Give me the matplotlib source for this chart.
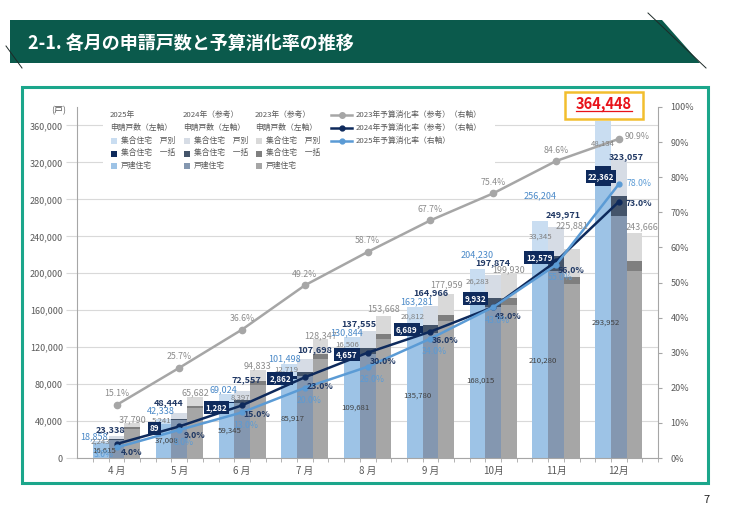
import matplotlib
matplotlib.use('Agg')
import matplotlib.pyplot as plt
import numpy as np
from matplotlib.patches import Rectangle, Polygon
from matplotlib.lines import Line2D

plt.rcParams['font.family'] = ['Noto Sans CJK JP', 'DejaVu Sans']

# ---------------- data ----------------
months = ['4 月', '5 月', '6 月', '7 月', '8 月', '9 月', '10月', '11月', '12月']

# 2025 applications (cumulative)
det_2025 = [16615, 37008, 59345, 85917, 109681, 135780, 168015, 210280, 293952]
bulk_2025 = [0, 89, 1282, 2862, 4657, 6689, 9932, 12579, 22362]
indiv_2025 = [2243, 5241, 8397, 12719, 16506, 20812, 26283, 33345, 48134]
total_2025 = [18858, 42338, 69024, 101498, 130844, 163281, 204230, 256204, 364448]

# 2024 (reference)
det_2024 = [19538, 40644, 59857, 88898, 113055, 135166, 163074, 201971, 261657]
bulk_2024 = [1000, 1800, 3000, 4700, 6500, 9000, 10000, 17000, 21600]
indiv_2024 = [2800, 6000, 9700, 14100, 18000, 20800, 24800, 31000, 39800]
total_2024 = [23338, 48444, 72557, 107698, 137555, 164966, 197874, 249971, 323057]

# 2023 (reference)
det_2023 = [31790, 53882, 79333, 107347, 128668, 148759, 165630, 187981, 201966]
bulk_2023 = [1500, 2800, 3500, 5100, 5400, 6200, 7500, 8500, 10800]
indiv_2023 = [4500, 9000, 12000, 15900, 19600, 23000, 26800, 29400, 30900]
total_2023 = [37790, 65682, 94833, 128347, 153668, 177959, 199930, 225881, 243666]

# budget consumption rates (%)
rate_2023 = [15.1, 25.7, 36.6, 49.2, 58.7, 67.7, 75.4, 84.6, 90.9]
rate_2024 = [4.0, 9.0, 15.0, 23.0, 30.0, 36.0, 43.0, 56.0, 73.0]
rate_2025 = [3.0, 8.0, 13.0, 20.0, 26.0, 34.0, 43.0, 55.0, 78.0]

# ---------------- styles ----------------
C25 = {'indiv': '#C9DDF1', 'bulk': '#0E2A5C', 'det': '#9DC3E6'}
C24 = {'indiv': '#D6DCE5', 'bulk': '#44546A', 'det': '#8497B0'}
C23 = {'indiv': '#D9D9D9', 'bulk': '#7F7F7F', 'det': '#A6A6A6'}
L23, L24, L25 = '#A6A6A6', '#0E2A5C', '#5B9BD5'
TXT = '#595959'

# label placement offsets (pixels), per month
tot25_off = [(-7, 4), (-3, 8), (-3, 4), (-5, 5), (-5, 4), (2, 5), (0, 15), (0, 26), (0, 0)]
tot24_off = [(-6, 7), (-11, 11), (4, 11), (10, 9), (-9, 7), (0, 13), (0, 13), (7, 12), (8, 3)]
tot23_off = [(0, 3), (0, 5), (0, 5), (0, 4), (0, 7), (0, 9), (0, 4), (0, 24), (8, 6)]
bulk25_off = [(0, 0), (-9, -5), (-10, -5), (-9, -1), (-5, 0), (-8, 0), (-2, 0), (-1, 0), (-2, 0)]
indiv25_off = [(0, 0), (-2, 1), (14, 0), (-3, 0), (-5, 0), (-2, 0), (0, 0), (0, 0), (0, 0)]

W, H = 730, 516
fig = plt.figure(figsize=(W / 100, H / 100), dpi=100)


def fx(x):
    return x / W


def fy(y):
    return 1 - y / H


# ---------------- banner / frame ----------------
fig.patches.append(Polygon([(fx(10), fy(20)), (fx(662), fy(20)), (fx(700), fy(63)), (fx(10), fy(63))],
                           closed=True, transform=fig.transFigure, facecolor='#0B5A4C',
                           edgecolor='none', zorder=0))
fig.lines.append(Line2D([fx(648), fx(706)], [fy(13), fy(68)], transform=fig.transFigure,
                        color='#1E2A28', lw=0.7))
fig.lines.append(Line2D([fx(6), fx(22)], [fy(46), fy(68)], transform=fig.transFigure,
                        color='#1E2A28', lw=0.7))
fig.text(fx(28), fy(43), '2-1. 各月の申請戸数と予算消化率の推移', color='white',
         fontsize=13, fontweight='bold', ha='left', va='center')
fig.patches.append(Rectangle((fx(22), fy(483)), (708 - 22) / W, (483 - 87) / H,
                             transform=fig.transFigure, fill=False,
                             edgecolor='#1BA68B', lw=2.2, zorder=0))
fig.text(fx(707), fy(500), '7', fontsize=8, ha='center', va='center', color='#222222')

# ---------------- axes ----------------
ax = fig.add_axes([fx(77), fy(458), (658 - 77) / W, (458 - 107) / H])
ax2 = ax.twinx()

x = np.arange(len(months))
bw = 0.25


def stack(xpos, det, bulk, indiv, cols):
    det = np.array(det)
    bulk = np.array(bulk)
    indiv = np.array(indiv)
    ax.bar(xpos, det, bw, color=cols['det'], lw=0, zorder=2)
    ax.bar(xpos, bulk, bw, bottom=det, color=cols['bulk'], lw=0, zorder=2)
    ax.bar(xpos, indiv, bw, bottom=det + bulk, color=cols['indiv'], lw=0, zorder=2)


stack(x - bw, det_2025, bulk_2025, indiv_2025, C25)
stack(x, det_2024, bulk_2024, indiv_2024, C24)
stack(x + bw, det_2023, bulk_2023, indiv_2023, C23)

ax.set_xlim(-0.63, 8.62)
ax.set_ylim(0, 380000)
ax.set_yticks(np.arange(0, 360001, 40000))
ax.set_yticklabels([f'{v:,}' for v in range(0, 360001, 40000)])
ax.tick_params(axis='y', length=8, color='#D9D9D9', labelsize=6.5, labelcolor=TXT, pad=2)
ax.yaxis.grid(True, color='#D9D9D9', lw=0.8, zorder=0)
ax.set_axisbelow(True)
ax.set_xticks(x)
ax.set_xticklabels(months)
ax.set_xticks(np.arange(-0.375, 8.63, 0.25), minor=True)
ax.tick_params(axis='x', which='major', length=0, labelsize=7, labelcolor=TXT, pad=6)
ax.tick_params(axis='x', which='minor', length=3, color='#A6A6A6')
for s in ['top', 'right']:
    ax.spines[s].set_visible(False)
for s in ['left', 'bottom']:
    ax.spines[s].set_color('#A6A6A6')
    ax.spines[s].set_linewidth(0.8)

ax2.set_ylim(0, 100)
ax2.set_yticks(np.arange(0, 101, 10))
ax2.set_yticklabels([f'{v}%' for v in range(0, 101, 10)])
ax2.tick_params(axis='y', length=3, color='#A6A6A6', labelsize=6.5, labelcolor=TXT, pad=6)
for s in ['top', 'left', 'bottom']:
    ax2.spines[s].set_visible(False)
ax2.spines['right'].set_color('#A6A6A6')
ax2.spines['right'].set_linewidth(0.8)

ax2.plot(x, rate_2023, color=L23, lw=1.8, marker='o', ms=4.5, zorder=3)
ax2.plot(x, rate_2024, color=L24, lw=1.8, marker='o', ms=3.5, zorder=3)
ax2.plot(x, rate_2025, color=L25, lw=1.8, marker='o', ms=3.5, zorder=3)

fig.text(fx(66), fy(111), '(戸)', ha='right', va='center', fontsize=6.5, color=TXT)


def lab(xv, yv, s, dx=0, dy=0, trans=None, **kw):
    ax2.annotate(s, xy=(xv, yv), xycoords=trans if trans is not None else ax.transData,
                 xytext=(dx, dy), textcoords='offset pixels', zorder=6,
                 annotation_clip=False, **kw)


# bar labels
for i in range(len(months)):
    xi25 = x[i] - bw
    if i < len(months) - 1:
        lab(xi25, total_2025[i], f'{total_2025[i]:,}', *tot25_off[i], ha='center',
            va='center', fontsize=6.5, color='#4A89C8')
    lab(x[i], total_2024[i], f'{total_2024[i]:,}', *tot24_off[i], ha='center', va='center',
        fontsize=6.5, color='#203864', fontweight='bold')
    lab(x[i] + bw, total_2023[i], f'{total_2023[i]:,}', *tot23_off[i], ha='center',
        va='center', fontsize=6.5, color='#8C8C8C')
    lab(xi25, det_2025[i] / 2, f'{det_2025[i]:,}', 3, 0, ha='center', va='center',
        fontsize=5.6, color='#404040')
    lab(xi25, det_2025[i] + bulk_2025[i] + indiv_2025[i] / 2, f'{indiv_2025[i]:,}',
        *indiv25_off[i], ha='center', va='center', fontsize=5.6, color='#7F7F7F')
    if bulk_2025[i] > 0:
        lab(xi25, det_2025[i] + bulk_2025[i] / 2, f'{bulk_2025[i]:,}', *bulk25_off[i],
            ha='center', va='center', fontsize=5.8, color='white', fontweight='bold',
            bbox=dict(boxstyle='square,pad=0.25', fc='#0E2A5C', ec='none'))

# rate labels
off23 = [(0, 11)] * 8 + [(18, 2)]
off24 = [(15, -9)] * 8 + [(20, -2)]
off25 = [(-13, -7)] + [(4, -13)] * 7 + [(20, 1)]
for i in range(len(months)):
    lab(x[i], rate_2023[i], f'{rate_2023[i]:.1f}%', *off23[i], trans=ax2.transData,
        ha='center', va='center', fontsize=6.3, color='#8C8C8C')
    lab(x[i], rate_2024[i], f'{rate_2024[i]:.1f}%', *off24[i], trans=ax2.transData,
        ha='center', va='center', fontsize=6.3, color='#1F3864', fontweight='bold')
    lab(x[i], rate_2025[i], f'{rate_2025[i]:.1f}%', *off25[i], trans=ax2.transData,
        ha='center', va='center', fontsize=6.3, color='#5B9BD5')

# highlighted 2025 December total
fig.patches.append(Rectangle((fx(565), fy(119)), 78 / W, 27 / H, transform=fig.transFigure,
                             facecolor='white', edgecolor='#F2BE2E', lw=1.8, zorder=5))
t = fig.text(fx(604), fy(104.5), f'{total_2025[-1]:,}', ha='center', va='center',
             fontsize=10.5, fontweight='bold', color='#E8131A', zorder=6)
fig.canvas.draw()
bb = t.get_window_extent().transformed(fig.transFigure.inverted())
fig.lines.append(Line2D([bb.x0, bb.x1], [bb.y0 + 0.002, bb.y0 + 0.002], transform=fig.transFigure,
                        color='#E8131A', lw=0.9, zorder=6))

# ---------------- legend ----------------
fig.patches.append(Rectangle((fx(103), fy(173)), (495 - 103) / W, (173 - 108) / H,
                             transform=fig.transFigure, facecolor='white', edgecolor='none',
                             zorder=2))
col_x = [110, 183, 255]
headers = ['2025年', '2024年（参考）', '2023年（参考）']
item_names = ['集合住宅　戸別', '集合住宅　一括', '戸建住宅']
col_colors = [C25, C24, C23]
keys = ['indiv', 'bulk', 'det']
rows = [115, 128, 141, 153.5, 166]
for cx, hd, cc in zip(col_x, headers, col_colors):
    fig.text(fx(cx), fy(rows[0]), hd, fontsize=5.6, color=TXT, va='center', ha='left', zorder=3)
    fig.text(fx(cx), fy(rows[1]), '申請戸数（左軸）', fontsize=5.6, color=TXT, va='center',
             ha='left', zorder=3)
    for k, (name, key) in enumerate(zip(item_names, keys)):
        yy = rows[2 + k]
        fig.patches.append(Rectangle((fx(cx + 1), fy(yy + 3)), 6 / W, 6 / H,
                                     transform=fig.transFigure, facecolor=cc[key],
                                     edgecolor='none', zorder=3))
        fig.text(fx(cx + 11), fy(yy), name, fontsize=5.6, color=TXT, va='center', ha='left',
                 zorder=3)

line_leg = [('2023年予算消化率（参考）（右軸）', L23, 4.0),
            ('2024年予算消化率（参考）（右軸）', L24, 3.5),
            ('2025年予算消化率（右軸）', L25, 3.5)]
for k, (name, col, ms) in enumerate(line_leg):
    yy = 115 + k * 13
    fig.lines.append(Line2D([fx(331), fx(352)], [fy(yy), fy(yy)], transform=fig.transFigure,
                            color=col, lw=1.8, zorder=3))
    fig.lines.append(Line2D([fx(341.5)], [fy(yy)], transform=fig.transFigure, color=col,
                            marker='o', ms=ms, zorder=3))
    fig.text(fx(356), fy(yy), name, fontsize=5.6, color=TXT, va='center', ha='left', zorder=3)

fig.savefig('out.png', dpi=100)
